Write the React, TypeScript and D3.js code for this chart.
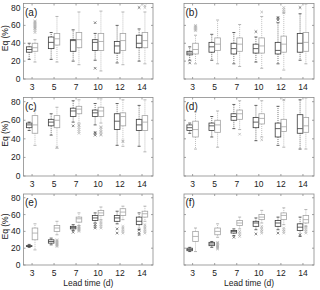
import React from "react";
import * as d3 from "d3";

// lead times (d) shared by all panels
const leadTimes = ["3", "5", "7", "10", "12", "14"];
const yTicks = [0, 20, 40, 60, 80];
const panelLabels = ["(a)", "(b)", "(c)", "(d)", "(e)", "(f)"];

// box stats per lead time: [min, q1, median, q3, max]
const aDark = [[22, 30, 33, 36, 40], [22, 34, 41, 47, 52], [20, 31, 43, 44, 55], [21, 32, 41, 44, 51], [18, 29, 37, 42, 60], [20, 35, 40, 49, 56]];
const aLight = [[19, 31, 35, 40, 44], [19, 38, 45, 51, 70], [16, 35, 44, 52, 75], [9, 32, 42, 51, 76], [16, 32, 43, 51, 75], [17, 35, 43, 52, 75]];
const bDark = [[21, 27, 29, 31, 36], [21, 30, 36, 41, 50], [17, 28, 34, 40, 52], [19, 29, 34, 39, 47], [17, 28, 32, 41, 63], [21, 30, 40, 51, 73]];
const bLight = [[17, 28, 33, 40, 49], [17, 32, 39, 46, 66], [14, 31, 39, 46, 61], [12, 29, 37, 46, 70], [10, 30, 39, 48, 74], [17, 31, 41, 52, 84]];
const cDark = [[49, 52, 55, 57, 58], [44, 54, 58, 61, 67], [58, 64, 70, 73, 81], [55, 64, 68, 71, 78], [33, 50, 59, 67, 78], [32, 49, 55, 61, 76]];
const cLight = [[33, 46, 55, 65, 71], [30, 52, 60, 65, 74], [57, 67, 72, 75, 82], [57, 64, 70, 74, 83], [32, 54, 64, 68, 82], [26, 49, 58, 65, 82]];
const dDark = [[46, 49, 52, 55, 57], [42, 49, 54, 57, 64], [51, 60, 64, 67, 77], [38, 52, 58, 63, 76], [33, 42, 51, 57, 75], [29, 46, 51, 66, 82]];
const dLight = [[29, 42, 50, 59, 69], [31, 47, 55, 60, 70], [50, 61, 67, 71, 81], [42, 56, 62, 67, 81], [31, 48, 53, 61, 82], [29, 47, 54, 63, 84]];
const eDark = [[21, 22, 22.5, 23, 24.5], [24, 26, 28, 30, 32], [41, 43, 44.5, 46, 48], [50, 53, 56, 59, 62], [49, 52, 56, 59, 64], [42, 48, 52, 57, 62]];
const eLight = [[18, 30, 38, 44, 49], [36, 40, 44, 47, 52], [47, 51, 55, 57, 62], [54, 59, 62, 65, 69], [54, 59, 63, 67, 70], [52, 57, 61, 64, 70]];
const fDark = [[16, 17, 18.5, 20, 21], [21, 23, 25, 27, 28], [35, 38, 40, 41, 43], [42, 46, 50, 52, 56], [42, 46, 50, 53, 57], [34, 41, 45, 49, 57]];
const fLight = [[16, 28, 34, 40, 44], [33, 36, 40, 44, 49], [43, 47, 50, 53, 57], [50, 54, 57, 60, 65], [48, 54, 59, 62, 68], [46, 50, 54, 59, 66]];

// outliers per lead time
const aDarkOut = [[], [], [], [63, 12], [], [80]];
const aLightOut = [[52, 54, 56, 57, 58, 59, 60, 61, 62, 63, 64, 65], [], [], [], [], [80, 82]];
const bDarkOut = [[18], [], [], [53], [66, 68, 69], [80]];
const bLightOut = [[54, 55, 56, 57, 58, 59, 60], [], [], [75], [74, 76, 78, 80], []];
const cDarkOut = [[], [], [54], [44, 46, 47], [], []];
const cLightOut = [[], [31], [46, 48, 50, 52, 54, 55], [44, 45, 47, 48, 50, 52, 53], [37, 38], []];
const dDarkOut = [[], [], [], [], [], []];
const dLightOut = [[], [], [45], [39], [82], []];
const eDarkOut = [[], [], [39], [44, 46, 48], [38, 43], [36, 38, 42]];
const eLightOut = [[], [22, 23, 24, 25, 26, 27, 28, 29, 30], [40, 41, 42, 43, 44, 45, 46], [44, 46, 48, 50, 52], [38, 40, 42, 44, 46], [38, 40, 42, 44, 46, 48]];
const fDarkOut = [[], [], [33], [37], [38], [36]];
const fLightOut = [[], [19, 20, 21, 22, 23, 24, 25, 26, 27], [34, 36, 38, 40], [38, 40, 42, 44, 46], [38, 40, 42, 44], [38, 40, 42, 44, 46]];

const darkSets = [aDark, bDark, cDark, dDark, eDark, fDark];
const lightSets = [aLight, bLight, cLight, dLight, eLight, fLight];
const darkOuts = [aDarkOut, bDarkOut, cDarkOut, dDarkOut, eDarkOut, fDarkOut];
const lightOuts = [aLightOut, bLightOut, cLightOut, dLightOut, eLightOut, fLightOut];

const colX = [[23.5, 153], [184, 314]];
const rowY = [[3.5, 79], [97.5, 176], [194, 265]];
const font = "Liberation Sans, Arial, sans-serif";
const frameColor = "#8a8a8a";
const darkColor = "#3c3c3c";
const lightColor = "#a4a4a4";
const boxW = 5.6;

function BoxGroup({ stats, outs, x, y, dx, color }) {
  return (
    <g>
      {stats.map((s, i) => {
        const cx = x(i + 1) + dx;
        const [mn, q1, md, q3, mx] = s;
        return (
          <g key={i}>
            <line x1={cx} x2={cx} y1={y(q3)} y2={y(mx)} stroke={color} strokeWidth={0.7} strokeDasharray="1,1" />
            <line x1={cx} x2={cx} y1={y(q1)} y2={y(mn)} stroke={color} strokeWidth={0.7} strokeDasharray="1,1" />
            <line x1={cx - 1.5} x2={cx + 1.5} y1={y(mx)} y2={y(mx)} stroke={color} strokeWidth={0.8} />
            <line x1={cx - 1.5} x2={cx + 1.5} y1={y(mn)} y2={y(mn)} stroke={color} strokeWidth={0.8} />
            <rect x={cx - boxW / 2} y={y(q3)} width={boxW} height={Math.max(0.5, y(q1) - y(q3))} fill="none" stroke={color} strokeWidth={0.8} />
            <line x1={cx - boxW / 2} x2={cx + boxW / 2} y1={y(md)} y2={y(md)} stroke={color} strokeWidth={0.8} />
            {outs[i].map((v, j) => (
              <path key={j} d={`M${cx - 1.3},${y(v) - 1.3}L${cx + 1.3},${y(v) + 1.3}M${cx - 1.3},${y(v) + 1.3}L${cx + 1.3},${y(v) - 1.3}`} stroke={color} strokeWidth={0.6} />
            ))}
          </g>
        );
      })}
    </g>
  );
}

function Panel({ idx }) {
  const col = idx % 2;
  const row = Math.floor(idx / 2);
  const [x0, x1] = colX[col];
  const [y0, y1] = rowY[row];
  const x = d3.scaleLinear().domain([0.61, 6.5]).range([x0, x1]);
  const y = d3.scaleLinear().domain([0, 84.5]).range([y1, y0]);
  const off = boxW / 2 + 0.1;
  return (
    <g>
      <rect x={x0} y={y0} width={x1 - x0} height={y1 - y0} fill="#fff" stroke={frameColor} strokeWidth={0.8} />
      {yTicks.map((t) => (
        <g key={t}>
          <line x1={x0} x2={x0 + 2} y1={y(t)} y2={y(t)} stroke={frameColor} strokeWidth={0.8} />
          <line x1={x1} x2={x1 - 2} y1={y(t)} y2={y(t)} stroke={frameColor} strokeWidth={0.8} />
          {col === 0 && (
            <text x={x0 - 3} y={y(t) + 3} textAnchor="end" fontSize={8.5} fill="#222" fontFamily={font}>{t}</text>
          )}
        </g>
      ))}
      {leadTimes.map((lt, i) => (
        <g key={lt}>
          <line x1={x(i + 1)} x2={x(i + 1)} y1={y1} y2={y1 - 2} stroke={frameColor} strokeWidth={0.8} />
          <line x1={x(i + 1)} x2={x(i + 1)} y1={y0} y2={y0 + 2} stroke={frameColor} strokeWidth={0.8} />
          <text x={x(i + 1)} y={y1 + 11} textAnchor="middle" fontSize={8.5} fill="#222" fontFamily={font}>{lt}</text>
        </g>
      ))}
      <BoxGroup stats={darkSets[idx]} outs={darkOuts[idx]} x={x} y={y} dx={-off} color={darkColor} />
      <BoxGroup stats={lightSets[idx]} outs={lightOuts[idx]} x={x} y={y} dx={off} color={lightColor} />
      <text x={x0 + 1.5} y={y0 + 12} fontSize={10} fill="#222" fontFamily={font}>{panelLabels[idx]}</text>
      {col === 0 && (
        <text transform={`translate(8,${(y0 + y1) / 2 - 3}) rotate(-90)`} textAnchor="middle" fontSize={8.5} fill="#222" fontFamily={font}>Eq (%)</text>
      )}
      {row === 2 && (
        <text x={(x0 + x1) / 2} y={y1 + 20.5} textAnchor="middle" fontSize={8.5} fill="#222" fontFamily={font}>Lead time (d)</text>
      )}
    </g>
  );
}

export default function App() {
  return (
    <svg width={320} height={290} style={{ position: "absolute", left: 0, top: 0, background: "#fff" }}>
      {panelLabels.map((_, i) => (
        <Panel key={i} idx={i} />
      ))}
    </svg>
  );
}
